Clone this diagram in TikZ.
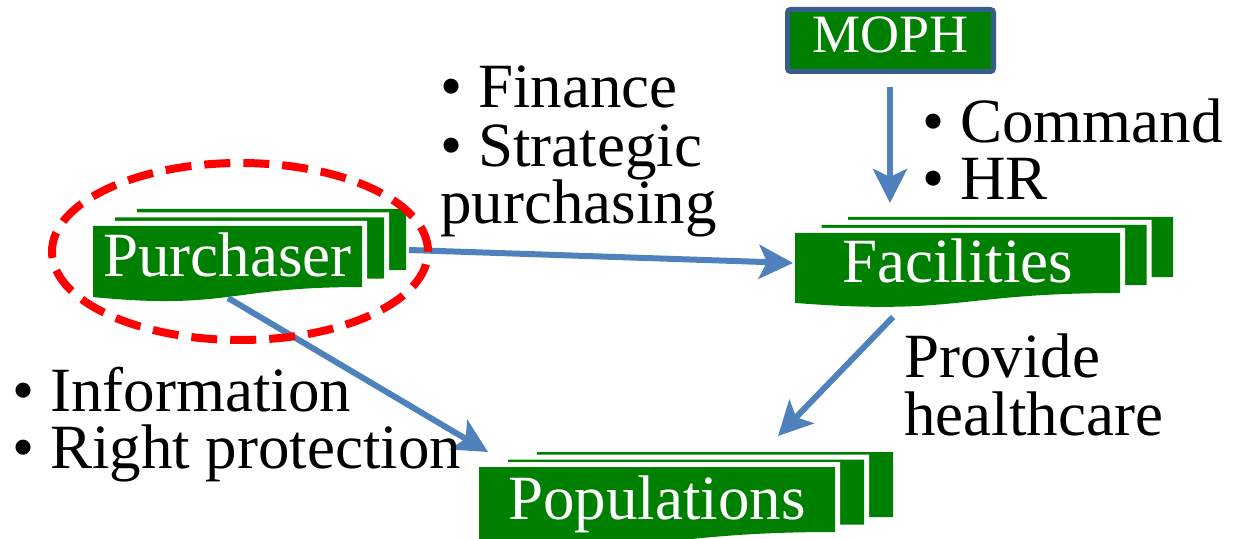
\documentclass[tikz,border=0pt]{standalone}
\usepackage{fontspec}
\setmainfont{Liberation Serif}
\usetikzlibrary{arrows.meta}
\definecolor{docgreen}{RGB}{0,128,0}
\definecolor{flowblue}{RGB}{79,129,189}
\definecolor{mophblue}{RGB}{56,93,138}

% stack of three sheets: name, left, top, right, bottom at right, dx, dy, label
\newcommand{\docstack}[8]{%
  \foreach \k in {2,1,0}
    \path[sheet, shift={({\k*#6},{-\k*#7})}]
      (#2,#3) -- (#4,#3) -- (#4,#5)
      .. controls ({(#2+#4)/2},#5) and ({(#2+#4)/2},{#3+1.38*(#5-#3)})
      .. (#2,{#3+1.165*(#5-#3)}) -- cycle;
  \node[doclabel] (#1) at ({(#2+#4)/2},{(#3+#5)/2+20}) {#8};
}

\begin{document}
\begin{tikzpicture}[
            x = 0.5pt, y = -0.5pt, % one unit per pixel, y going down
            > = {Stealth[length=17pt, width=17pt, inset=4pt]},
            sheet/.style = {fill=docgreen, preaction={draw=white, line width=5pt}},
            doclabel/.style = {anchor=base, inner sep=0pt, text=white,
                               font=\fontsize{31.5}{34}\selectfont},
            bullets/.style = {anchor=base west, align=left, inner sep=0pt,
                              font=\fontsize{31.5}{28.5}\selectfont},
            flow/.style = {->, draw=flowblue, line width=3pt},
            ring/.style = {draw=red, line width=4pt, dash pattern=on 13pt off 6.5pt}
            ]
	\useasboundingbox (0,0) rectangle (1241,539);

	% document stacks
	\docstack{purch}{93}{226}{362}{287}{22}{8.5}{Purchaser}
	\docstack{fac}{795}{233}{1120}{293}{26.5}{8}{Facilities}
	\docstack{pop}{479}{467}{835}{532}{29}{7.5}{Populations}

	% ministry
	\node[draw=mophblue, line width=2.5pt, fill=docgreen, rounded corners=1.5pt,
	      minimum width=103pt, minimum height=31pt, text depth=5.5pt, text=white,
	      font=\fontsize{27}{30}\selectfont] (moph) at (890.5,40.5) {MOPH};

	% arrow ends
	\coordinate (pf0) at (409,250);
	\coordinate (pf1) at (793,263);
	\coordinate (mf0) at (890,87);
	\coordinate (mf1) at (890,203);
	\coordinate (fp0) at (893,317);
	\coordinate (fp1) at (778,436);
	\coordinate (pp0) at (228,298);
	\coordinate (pp1) at (488,452);

	\draw[flow] (pf0) -- (pf1);
	\draw[flow] (mf0) -- (mf1);
	\draw[flow] (fp0) -- (fp1);
	\draw[flow] (pp0) -- (pp1);

	% labels, placed by the baseline of their last line
	\node[bullets] (money) at (440,224) {\textbullet{} Finance\\[1pt] \textbullet{} Strategic\\[-1pt] purchasing};
	\node[bullets] (rule) at (922,200) {\textbullet{} Command\\ \textbullet{} HR};
	\node[bullets] (care) at (904,435) {Provide\\ healthcare};
	\node[bullets] (rights) at (12,468) {\textbullet{} Information\\ \textbullet{} Right protection};

	% highlight
	\draw[ring] (240,251.5) ellipse [x radius=94pt, y radius=44.25pt];

\end{tikzpicture}
\end{document}
